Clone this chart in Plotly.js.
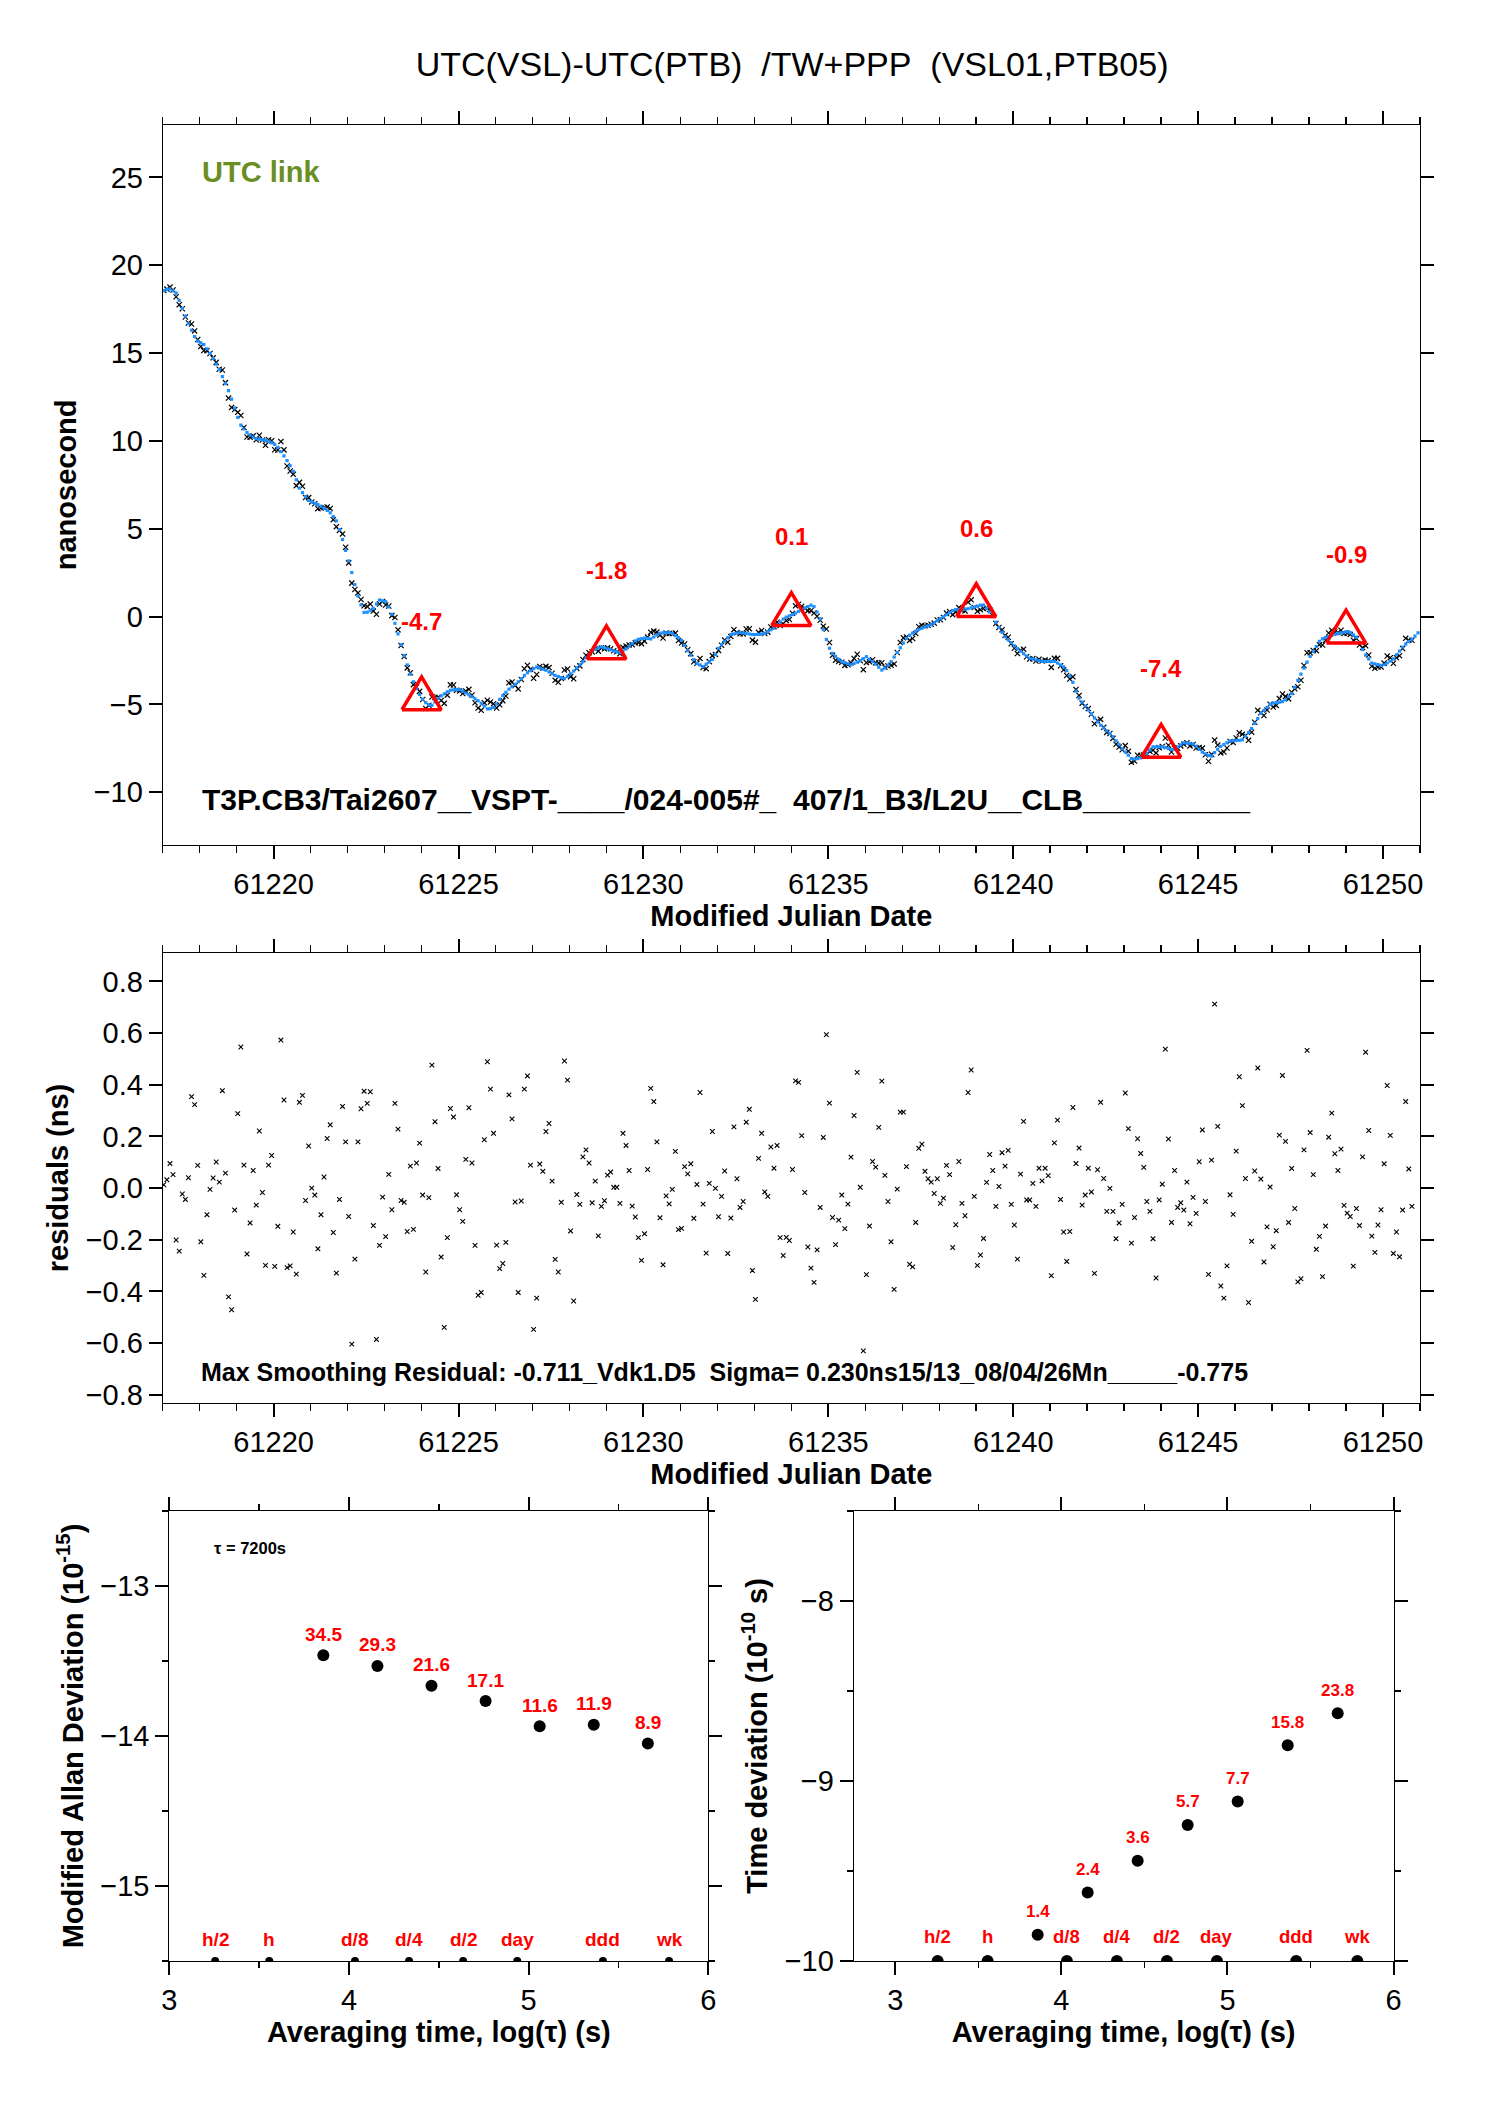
<!DOCTYPE html>
<html>
<head>
<meta charset="utf-8">
<script src="https://cdn.plot.ly/plotly-3.0.1.min.js"></script>
<style>html,body{margin:0;padding:0;background:#fff;}</style>
</head>
<body>
<div id="chart" style="width:1488px;height:2105px;"></div>
<script>
// ---------------- data ----------------
// sampling of the link data: every 2 hours starting at this MJD
const mjdStart = 61217.03;
const sampleStepDays = 1 / 12;

// smoothed UTC(VSL)-UTC(PTB) (ns), one value per 2-hour epoch
const smoothNs = [
 18.55,18.61,18.66,18.54,18.41,18.0,17.55,17.1,16.67,16.3,15.94,15.68,
 15.58,15.48,15.24,14.98,14.69,14.37,14.06,13.66,13.26,12.86,12.38,11.87,
 11.34,10.9,10.68,10.48,10.34,10.22,10.13,10.1,10.07,10.05,9.98,9.89,
 9.8,9.63,9.39,9.15,8.88,8.59,8.27,7.79,7.31,7.06,6.83,6.61,
 6.53,6.45,6.38,6.28,6.17,6.05,5.91,5.69,5.45,4.95,4.39,3.77,
 3.17,2.51,1.82,1.17,0.67,0.24,0.25,0.34,0.46,0.72,0.94,0.9,
 0.85,0.55,0.14,-0.38,-0.98,-1.6,-2.22,-2.75,-3.28,-3.71,-4.1,-4.43,
 -4.69,-4.9,-5.01,-5.05,-4.86,-4.67,-4.51,-4.4,-4.28,-4.19,-4.17,-4.16,
 -4.15,-4.25,-4.35,-4.45,-4.56,-4.68,-4.79,-4.93,-5.09,-5.25,-5.24,-5.17,
 -4.98,-4.71,-4.49,-4.31,-4.13,-3.99,-3.86,-3.71,-3.53,-3.35,-3.2,-3.08,
 -2.96,-2.87,-2.93,-2.99,-3.05,-3.15,-3.25,-3.35,-3.41,-3.47,-3.53,-3.4,
 -3.25,-3.1,-2.92,-2.74,-2.56,-2.35,-2.15,-1.95,-1.86,-1.78,-1.72,-1.78,
 -1.83,-1.89,-1.95,-2.0,-2.06,-1.95,-1.84,-1.68,-1.53,-1.38,-1.29,-1.26,
 -1.22,-1.24,-1.27,-1.16,-1.05,-0.94,-0.92,-0.91,-0.9,-0.96,-1.08,-1.2,
 -1.35,-1.64,-1.94,-2.2,-2.45,-2.67,-2.75,-2.84,-2.71,-2.58,-2.44,-2.15,
 -1.81,-1.6,-1.4,-1.2,-1.02,-0.98,-0.94,-0.9,-0.93,-0.96,-0.99,-1.02,
 -1.02,-1.01,-1.0,-0.95,-0.85,-0.75,-0.65,-0.48,-0.31,-0.14,-0.03,0.04,
 0.12,0.2,0.3,0.39,0.49,0.57,0.65,0.57,0.26,-0.13,-0.74,-1.3,
 -1.8,-2.09,-2.26,-2.43,-2.57,-2.62,-2.68,-2.74,-2.66,-2.59,-2.51,-2.39,
 -2.28,-2.42,-2.56,-2.71,-2.88,-3.04,-2.93,-2.76,-2.56,-2.3,-2.04,-1.77,
 -1.5,-1.24,-1.06,-0.94,-0.83,-0.73,-0.66,-0.59,-0.53,-0.46,-0.35,-0.23,
 -0.12,-0.01,0.11,0.23,0.34,0.4,0.41,0.42,0.43,0.45,0.5,0.55,
 0.6,0.65,0.66,0.47,0.27,0.0,-0.32,-0.62,-0.89,-1.15,-1.32,-1.48,
 -1.66,-1.83,-1.97,-2.11,-2.24,-2.37,-2.41,-2.46,-2.5,-2.55,-2.55,-2.55,
 -2.55,-2.55,-2.64,-2.75,-2.86,-3.07,-3.38,-3.74,-4.24,-4.64,-4.86,-5.09,
 -5.31,-5.54,-5.77,-6.0,-6.18,-6.34,-6.5,-6.65,-6.84,-7.07,-7.29,-7.52,
 -7.71,-7.89,-8.08,-8.11,-8.08,-8.04,-7.96,-7.78,-7.59,-7.41,-7.41,-7.41,
 -7.41,-7.45,-7.51,-7.57,-7.55,-7.42,-7.3,-7.18,-7.2,-7.22,-7.25,-7.38,
 -7.55,-7.71,-7.81,-7.9,-7.94,-7.74,-7.55,-7.38,-7.28,-7.18,-7.08,-7.06,
 -7.05,-7.04,-7.01,-6.81,-6.6,-6.37,-6.08,-5.8,-5.51,-5.34,-5.17,-4.99,
 -4.92,-4.89,-4.87,-4.84,-4.72,-4.55,-4.38,-4.03,-3.63,-3.27,-2.93,-2.59,
 -2.27,-1.98,-1.7,-1.41,-1.27,-1.2,-1.13,-1.06,-1.01,-0.97,-0.93,-0.89,
 -0.85,-0.91,-1.04,-1.17,-1.47,-1.88,-2.19,-2.41,-2.64,-2.69,-2.73,-2.78,
 -2.74,-2.64,-2.54,-2.4,-2.17,-1.96,-1.73,-1.57,-1.42,-1.28,-1.11,-0.93
];

// smoothing residuals (ns), one per 2-hour epoch
const residNs = [
 0.013,0.032,0.095,0.052,-0.201,-0.244,-0.023,-0.044,0.04,0.354,
 0.323,0.088,-0.208,-0.338,-0.103,-0.005,0.039,0.101,0.023,0.377,
 0.058,-0.421,-0.471,-0.085,0.288,0.546,0.089,-0.255,-0.135,0.068,
 -0.066,0.221,-0.017,-0.299,0.089,0.126,-0.303,-0.148,0.573,0.341,
 -0.308,-0.301,-0.17,-0.333,0.332,0.359,-0.048,0.163,0,-0.027,
 -0.235,-0.103,0.043,0.192,0.245,-0.172,-0.329,-0.044,0.316,0.179,
 -0.11,-0.604,-0.275,0.179,0.307,0.375,0.328,0.373,-0.145,-0.586,
 -0.222,-0.035,-0.188,0.053,-0.084,0.328,0.228,-0.048,-0.055,-0.168,
 0.085,-0.16,0.097,0.174,-0.027,-0.325,-0.037,0.476,0.257,0.076,
 -0.267,-0.539,-0.192,0.308,0.275,-0.026,-0.084,-0.129,0.111,0.311,
 0.097,-0.222,-0.415,-0.404,0.187,0.489,0.383,0.212,-0.221,-0.312,
 -0.292,-0.21,0.361,0.268,-0.054,-0.404,-0.05,0.383,0.434,0.089,
 -0.547,-0.426,0.093,0.065,0.219,0.25,0.027,-0.276,-0.325,-0.055,
 0.492,0.418,-0.166,-0.437,-0.025,-0.063,0.121,0.148,0.097,-0.057,
 0.027,-0.185,
 -0.071,-0.049,0.05,0.062,0.003,0.003,-0.059,0.212,0.165,0.068,
 -0.07,-0.112,-0.192,-0.28,-0.177,0.072,0.386,0.335,0.179,-0.115,
 -0.297,-0.03,-0.061,-0.005,0.142,-0.161,-0.156,0.083,0.055,0.094,
 -0.117,0.014,0.37,-0.062,-0.252,0.018,0.219,-0.001,-0.111,-0.032,
 0.066,-0.253,-0.116,0.237,0.036,-0.075,-0.052,0.255,0.305,-0.319,
 -0.431,0.115,0.212,-0.015,-0.032,0.159,0.077,0.165,-0.192,-0.261,
 -0.191,-0.203,0.072,0.415,0.409,0.203,-0.017,-0.228,-0.31,-0.365,
 -0.239,-0.075,0.196,0.594,0.329,-0.114,-0.219,-0.124,-0.027,-0.157,
 -0.062,0.12,0.281,0.448,0.003,-0.63,-0.335,-0.147,0.103,0.081,
 0.235,0.414,0.049,-0.052,-0.208,-0.392,-0.004,0.294,0.294,0.083,
 -0.295,-0.305,-0.133,0.154,0.17,0.065,0.036,0.023,-0.021,0.036,
 -0.059,-0.039,0.088,0.052,-0.23,-0.142,0.103,-0.059,-0.107,0.37,
 0.457,-0.032,-0.299,-0.259,-0.195,0.022,0.13,0.068,-0.071,0.006,
 0.137,0.085,0.146,-0.063,-0.143,-0.275,
 0.054,0.258,-0.046,-0.046,0.018,-0.071,0.077,0.028,0.077,0.048,
 -0.339,0.175,0.263,-0.044,-0.17,-0.284,-0.168,0.312,0.095,0.155,
 -0.066,-0.027,0.077,-0.015,-0.33,0.071,0.332,0.037,-0.09,-0.001,
 -0.09,-0.196,-0.135,-0.063,0.368,0.23,-0.213,-0.114,0.191,0.134,
 0.08,-0.052,-0.09,-0.196,-0.348,-0.046,0.015,0.538,0.19,-0.133,
 0.068,-0.075,-0.057,-0.085,0.023,-0.138,-0.036,-0.098,0.102,0.225,
 -0.052,-0.334,0.108,0.712,0.239,-0.379,-0.426,-0.301,-0.026,-0.102,
 0.143,0.431,0.319,0.037,-0.443,-0.206,0.066,0.465,0.035,-0.286,
 -0.15,0.004,-0.227,-0.165,0.205,0.436,0.181,-0.133,0.076,-0.079,
 -0.363,-0.351,0.148,0.533,0.215,0.052,-0.237,-0.187,-0.343,-0.147,
 0.197,0.29,0.133,0.068,0.151,-0.067,-0.097,-0.11,-0.302,-0.079,
 -0.145,0.121,0.526,0.223,-0.186,-0.249,-0.143,-0.084,0.094,0.397,
 0.204,-0.253,-0.17,-0.266,-0.085,0.335,0.074,-0.071
];

// daily markers (triangles) on the smoothed curve
const triMjd = [61224, 61229, 61234, 61239, 61244, 61249];
const triNs  = [-4.7, -1.8, 0.1, 0.6, -7.4, -0.9];

// stability analysis
const tauSec    = [7200, 14400, 28800, 57600, 115200, 230400, 460800];
const mdev1e15  = [34.5, 29.3, 21.6, 17.1, 11.6, 11.9, 8.9];
const tdev1e10  = [1.4, 2.4, 3.6, 5.7, 7.7, 15.8, 23.8];
const markLabels = ['h/2', 'h', 'd/8', 'd/4', 'd/2', 'day', 'ddd', 'wk'];
const markSec    = [1800, 3600, 10800, 21600, 43200, 86400, 259200, 604800];

// texts
const titleText = 'UTC(VSL)-UTC(PTB)\u00a0\u00a0/TW+PPP\u00a0\u00a0(VSL01,PTB05)';
const linkText = 'UTC link';
const codeText = 'T3P.CB3/Tai2607__VSPT-____/024-005#_\u00a0\u00a0407/1_B3/L2U__CLB__________';
const residText = 'Max Smoothing Residual: -0.711_Vdk1.D5\u00a0\u00a0Sigma= 0.230ns15/13_08/04/26Mn_____-0.775';
const tauText = '\u03c4 = 7200s';

// ---------------- derived ----------------
const smoothMjd = smoothNs.map((_, k) => mjdStart + k * sampleStepDays);
const residMjd = residNs.map((_, k) => mjdStart + k * sampleStepDays);
const rawNs = residNs.map((r, k) => smoothNs[k] + r);
const logTau = tauSec.map(t => Math.log10(t));
const logMdev = mdev1e15.map(v => Math.log10(v * 1e-15));
const logTdev = tdev1e10.map(v => Math.log10(v * 1e-10));
const logMark = markSec.map(t => Math.log10(t));

// triangle outline geometry (style, data units of the top panel)
const TRI_HALF_W = 0.53, TRI_UP = 1.27, TRI_DOWN = 0.6;
const triX = [], triY = [];
triMjd.forEach((m, i) => {
  const v = triNs[i];
  triX.push(m - TRI_HALF_W, m + TRI_HALF_W, m, m - TRI_HALF_W, null);
  triY.push(v - TRI_DOWN, v - TRI_DOWN, v + TRI_UP, v - TRI_DOWN, null);
});

const FONT = '"Liberation Sans", Arial, Helvetica, sans-serif';
const RED = '#ff0000';

const traces = [
  { type: 'scatter', mode: 'markers', x: residMjd, y: rawNs, xaxis: 'x', yaxis: 'y',
    marker: { symbol: 'x-thin', size: 5.2, color: 'black', line: { width: 1.2, color: 'black' } } },
  { type: 'scatter', mode: 'markers', x: smoothMjd, y: smoothNs, xaxis: 'x', yaxis: 'y',
    marker: { symbol: 'square', size: 3.2, color: '#1e90ff', line: { width: 0 } } },
  { type: 'scatter', mode: 'lines', x: triX, y: triY, xaxis: 'x', yaxis: 'y',
    line: { color: RED, width: 3.5 }, connectgaps: false },
  { type: 'scatter', mode: 'markers', x: residMjd, y: residNs, xaxis: 'x2', yaxis: 'y2',
    marker: { symbol: 'x-thin', size: 4.6, color: 'black', line: { width: 1.1, color: 'black' } } },
  { type: 'scatter', mode: 'markers', x: logTau, y: logMdev, xaxis: 'x3', yaxis: 'y3',
    marker: { symbol: 'circle', size: 12, color: 'black' } },
  { type: 'scatter', mode: 'markers', x: logMark, y: logMark.map(() => -15.5), xaxis: 'x3', yaxis: 'y3',
    marker: { symbol: 'circle', size: 8, color: 'black' } },
  { type: 'scatter', mode: 'markers', x: logTau, y: logTdev, xaxis: 'x4', yaxis: 'y4',
    marker: { symbol: 'circle', size: 12, color: 'black' } },
  { type: 'scatter', mode: 'markers', x: logMark, y: logMark.map(() => -10), xaxis: 'x4', yaxis: 'y4',
    marker: { symbol: 'circle', size: 12, color: 'black' } }
];

function axis(extra) {
  return Object.assign({
    showline: true, linecolor: 'black', linewidth: 1, mirror: 'ticks',
    ticks: 'outside', ticklen: 13, tickwidth: 2, tickcolor: 'black',
    showgrid: false, zeroline: false, automargin: false, fixedrange: true,
    tickfont: { family: FONT, size: 29, color: 'black' }
  }, extra);
}
function axTitle(text, standoff) {
  return { text: text, standoff: standoff, font: { family: FONT, size: 29, color: 'black', weight: 'bold' } };
}
const minorX = { dtick: 1, ticklen: 7, tickwidth: 1.5, tickcolor: 'black', ticks: 'outside', showgrid: false };
const minorHalf = { dtick: 0.5, ticklen: 6, tickwidth: 1.5, tickcolor: 'black', ticks: 'outside', showgrid: false };

const annotations = [];
function addText(xref, yref, x, y, text, size, color, bold, xanchor, yshift) {
  annotations.push({ xref: xref, yref: yref, x: x, y: y, text: text, showarrow: false,
    xanchor: xanchor || 'center', yanchor: 'middle', yshift: yshift || 0,
    font: { family: FONT, size: size, color: color, weight: bold ? 'bold' : 'normal' } });
}
addText('x', 'y', 61218.0, 25.28, linkText, 29, '#6b8e23', true, 'left');
addText('x', 'y', 61218.0, -10.43, codeText, 30, 'black', true, 'left');
addText('x2', 'y2', 61217.98, -0.711, residText, 25, 'black', true, 'left');
addText('x3', 'y3', 3.235, -12.75, tauText, 16.5, 'black', true, 'left');
triMjd.forEach((m, i) => addText('x', 'y', m, triNs[i], triNs[i].toFixed(1), 24, RED, true, 'center', 78));
logTau.forEach((x, i) => addText('x3', 'y3', x, logMdev[i], mdev1e15[i].toFixed(1), 19, RED, true, 'center', 21));
logMark.forEach((x, i) => addText('x3', 'y3', x, -15.5, markLabels[i], 19, RED, true, 'center', 22));
logTau.forEach((x, i) => addText('x4', 'y4', x, logTdev[i], tdev1e10[i].toFixed(1), 17, RED, true, 'center', 23));
logMark.forEach((x, i) => addText('x4', 'y4', x, -10, markLabels[i], 18.5, RED, true, 'center', 25));

const layout = {
  width: 1488, height: 2105,
  margin: { l: 0, r: 0, t: 0, b: 0 },
  paper_bgcolor: 'white', plot_bgcolor: 'white',
  showlegend: false, hovermode: false,
  font: { family: FONT, color: 'black' },
  title: { text: titleText, x: 0.5323, xanchor: 'center', y: 0.9694, yanchor: 'middle',
           font: { family: FONT, size: 34, color: 'black' } },
  xaxis: axis({ domain: [0.10934, 0.9543], anchor: 'y', range: [61217, 61251], tick0: 61220, dtick: 5,
                tickformat: 'd', minor: minorX, title: axTitle('Modified Julian Date', 4) }),
  yaxis: axis({ domain: [0.59857, 0.94076], anchor: 'x', range: [-13, 28], tick0: 0, dtick: 5,
                title: axTitle('nanosecond', 8) }),
  xaxis2: axis({ domain: [0.10934, 0.9543], anchor: 'y2', range: [61217, 61251], tick0: 61220, dtick: 5,
                 tickformat: 'd', minor: minorX, title: axTitle('Modified Julian Date', 4) }),
  yaxis2: axis({ domain: [0.33349, 0.54727], anchor: 'x2', range: [-0.832, 0.91], tick0: 0, dtick: 0.2,
                 tickformat: '.1f', title: axTitle('residuals (ns)', 8) }),
  xaxis3: axis({ domain: [0.11378, 0.47601], anchor: 'y3', range: [3, 6], tick0: 3, dtick: 1,
                 minor: minorHalf, title: axTitle('Averaging time, log(\u03c4) (s)', 4) }),
  yaxis3: axis({ domain: [0.06841, 0.28219], anchor: 'x3', range: [-15.5, -12.5], tick0: -15, dtick: 1,
                 minor: minorHalf, title: axTitle('Modified Allan Deviation (10<sup>-15</sup>)', 8) }),
  xaxis4: axis({ domain: [0.57372, 0.93656], anchor: 'y4', range: [2.75, 6], tick0: 3, dtick: 1,
                 minor: Object.assign({ tick0: 3 }, minorHalf), title: axTitle('Averaging time, log(\u03c4) (s)', 4) }),
  yaxis4: axis({ domain: [0.06841, 0.28219], anchor: 'x4', range: [-10, -7.5], tick0: -10, dtick: 1,
                 minor: minorHalf, title: axTitle('Time deviation (10<sup>-10</sup> s)', 8) }),
  annotations: annotations
};

Plotly.newPlot('chart', traces, layout, { displayModeBar: false, staticPlot: true });
</script>
</body>
</html>
